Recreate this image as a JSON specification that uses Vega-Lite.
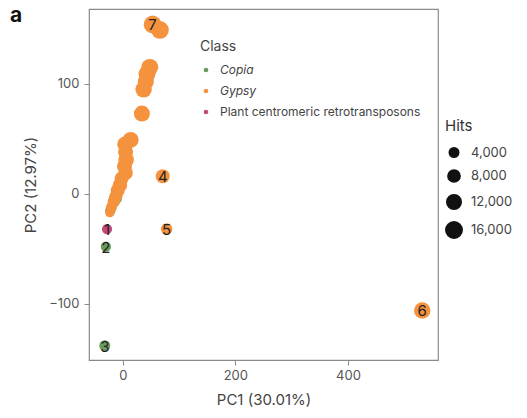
{
  "$schema": "https://vega.github.io/schema/vega-lite/v6.json",
  "width": 349,
  "height": 351,
  "autosize": "none",
  "padding": {"left": 89, "top": 9, "right": 89, "bottom": 58},
  "background": "white",
  "config": {
    "font": "Inter",
    "view": {"stroke": "#8a8a8a", "strokeWidth": 1.2},
    "axis": {"grid": false, "domain": false, "tickColor": "#8a8a8a", "tickSize": 5, "labelColor": "#555555", "labelFontSize": 13, "titleColor": "#444444", "titleFontSize": 15, "titleFontWeight": "normal"}
  },
  "title": {"text": "a", "anchor": "start", "frame": "group", "dx": -79, "dy": 21, "fontSize": 21, "fontWeight": "bold", "color": "#111111"},
  "data": {"values": [
    {"x": 53, "y": 154, "cls": "Gypsy", "hits": 19000, "label": "7"},
    {"x": 66, "y": 149, "cls": "Gypsy", "hits": 19000, "label": null},
    {"x": 48, "y": 115, "cls": "Gypsy", "hits": 17000, "label": null},
    {"x": 43, "y": 109, "cls": "Gypsy", "hits": 17000, "label": null},
    {"x": 41, "y": 102, "cls": "Gypsy", "hits": 15000, "label": null},
    {"x": 37, "y": 95, "cls": "Gypsy", "hits": 16000, "label": null},
    {"x": 34, "y": 73, "cls": "Gypsy", "hits": 15000, "label": null},
    {"x": 14, "y": 49, "cls": "Gypsy", "hits": 15000, "label": null},
    {"x": 4, "y": 45, "cls": "Gypsy", "hits": 14000, "label": null},
    {"x": 5, "y": 38, "cls": "Gypsy", "hits": 13000, "label": null},
    {"x": 6, "y": 31, "cls": "Gypsy", "hits": 14000, "label": null},
    {"x": 3, "y": 25, "cls": "Gypsy", "hits": 13000, "label": null},
    {"x": 5, "y": 19, "cls": "Gypsy", "hits": 12000, "label": null},
    {"x": -2, "y": 14, "cls": "Gypsy", "hits": 11000, "label": null},
    {"x": -5, "y": 8, "cls": "Gypsy", "hits": 12000, "label": null},
    {"x": -9, "y": 3, "cls": "Gypsy", "hits": 11000, "label": null},
    {"x": -13, "y": -4, "cls": "Copia", "hits": 9000, "label": null},
    {"x": -12, "y": -2, "cls": "Gypsy", "hits": 9000, "label": null},
    {"x": -16, "y": -7, "cls": "Gypsy", "hits": 8000, "label": null},
    {"x": -22, "y": -15, "cls": "Copia", "hits": 5000, "label": null},
    {"x": -20, "y": -12, "cls": "Gypsy", "hits": 6000, "label": null},
    {"x": -23, "y": -17, "cls": "Gypsy", "hits": 4000, "label": null},
    {"x": 71, "y": 16, "cls": "Gypsy", "hits": 11000, "label": "4"},
    {"x": 78, "y": -32, "cls": "Gypsy", "hits": 7000, "label": "5"},
    {"x": 532, "y": -106, "cls": "Gypsy", "hits": 16000, "label": "6"},
    {"x": -28, "y": -32, "cls": "Plant centromeric retrotransposons", "hits": 5000, "label": "1"},
    {"x": -30, "y": -48, "cls": "Copia", "hits": 5000, "label": "2"},
    {"x": -32, "y": -138, "cls": "Copia", "hits": 6000, "label": "3"}
  ]},
  "encoding": {
    "x": {"field": "x", "type": "quantitative", "scale": {"domain": [-60, 560], "nice": false, "zero": false}, "axis": {"values": [0, 200, 400], "title": "PC1 (30.01%)", "labelPadding": 4, "titlePadding": 10}},
    "y": {"field": "y", "type": "quantitative", "scale": {"domain": [-151, 168], "nice": false, "zero": false}, "axis": {"values": [-100, 0, 100], "title": "PC2 (12.97%)", "labelPadding": 5, "titlePadding": 10}}
  },
  "layer": [
    {
      "mark": {"type": "circle", "opacity": 1},
      "encoding": {
        "color": {"field": "cls", "type": "nominal", "scale": {"domain": ["Copia", "Gypsy", "Plant centromeric retrotransposons"], "range": ["#6b9a5e", "#f5923e", "#c14c7c"]},
          "legend": {"title": "Class", "orient": "none", "legendX": 111, "legendY": 31, "symbolSize": 22, "symbolType": "circle", "titleFontSize": 14, "titleFontWeight": "normal", "titleColor": "#444444", "labelFontSize": 12, "labelColor": "#444444", "labelLimit": 400, "rowPadding": 9, "titlePadding": 10, "labelOffset": 8,
            "labelFontStyle": {"expr": "datum.value === 'Plant centromeric retrotransposons' ? 'normal' : 'italic'"}}},
        "size": {"field": "hits", "type": "quantitative", "scale": {"domain": [0, 20000], "range": [30, 330]},
          "legend": {"title": "Hits", "orient": "none", "legendX": 356, "legendY": 110, "values": [4000, 8000, 12000, 16000], "symbolFillColor": "#111111", "symbolStrokeColor": "#111111", "symbolOpacity": 1, "titleFontSize": 15, "titleFontWeight": "normal", "titleColor": "#333333", "labelFontSize": 13, "labelColor": "#444444", "rowPadding": 5, "titlePadding": 12, "labelOffset": 8, "format": ",d"}}
      }
    },
    {
      "transform": [{"filter": "datum.label != null"}],
      "mark": {"type": "text", "fontSize": 15, "color": "#222222", "dy": 1},
      "encoding": {"text": {"field": "label", "type": "nominal"}}
    }
  ]
}
